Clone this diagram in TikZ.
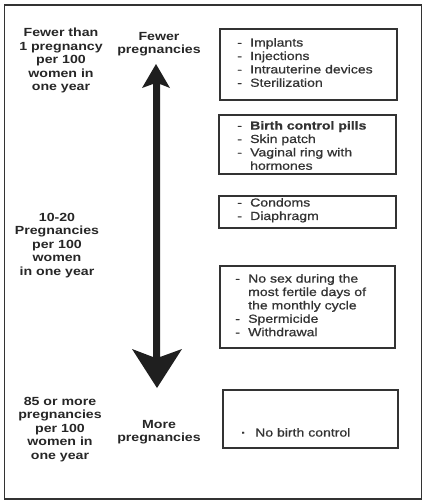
\documentclass[tikz,border=0pt]{standalone}
\usepackage{fontspec}
\setmainfont{Liberation Sans}
\newfontfamily\lblfont[FakeStretch=1.2]{Liberation Sans}
\newfontfamily\medfont[FakeStretch=1.2,FakeBold=0.8]{Liberation Sans}
\newenvironment{itemlist}{\begin{tabular}{@{}p{13pt}@{}l@{}}}{\end{tabular}}
\begin{document}
\begin{tikzpicture}[x=1pt,y=-1pt,
  frame/.style={draw=black!80, line width=1.8pt},
  listbox/.style={draw=black!80, line width=1.6pt, rectangle, inner sep=0pt, anchor=north west},
  sidelabel/.style={anchor=north, inner sep=0pt, align=center, text=black!85,
    font=\lblfont\bfseries\fontsize{11.8}{13.5}\selectfont},
  listtext/.style={anchor=north west, inner sep=0pt, text=black!80,
    font=\medfont\fontsize{11.7}{13.4}\selectfont}]
\useasboundingbox (0,0) rectangle (427,504);
\node[frame, rectangle, inner sep=0pt, anchor=north west, minimum width=417pt, minimum height=494pt] (outer) at (3.5,4) {};
% arrow
\fill[black!88] (156,64) -- (170,88) -- (160,84) -- (160,357) -- (182,349) -- (157,388)
  -- (132,349) -- (153,357) -- (153,84) -- (142,88) -- cycle;
% left labels
\node[sidelabel] (l1) at (61,28) {Fewer than\\1 pregnancy\\per 100\\women in\\one year};
\node[sidelabel] (l2) at (57,213) {10-20\\Pregnancies\\per 100\\women\\in one year};
\node[sidelabel] (l3) at (60,397) {85 or more\\pregnancies\\per 100\\women in\\one year};
\node[sidelabel] (m1) at (159,32) {Fewer\\pregnancies};
\node[sidelabel] (m2) at (159,420) {More\\pregnancies};
% boxes
\node[listbox, minimum width=177pt, minimum height=71pt] (b1) at (219,28) {};
\node[listbox, minimum width=177pt, minimum height=59pt] (b2) at (218,114) {};
\node[listbox, minimum width=177pt, minimum height=32pt] (b3) at (218,195) {};
\node[listbox, minimum width=175pt, minimum height=82pt] (b4) at (219,265) {};
\node[listbox, minimum width=175pt, minimum height=58pt] (b5) at (222,389) {};
\node[listtext] (t1) at (237,37) {\begin{itemlist}
- & Implants\\ - & Injections\\ - & Intrauterine devices\\ - & Sterilization\end{itemlist}};
\node[listtext] (t2) at (237,120) {\begin{itemlist}
- & \bfseries Birth control pills\\ - & Skin patch\\ - & Vaginal ring with\\ & hormones\end{itemlist}};
\node[listtext] (t3) at (237,197) {\begin{itemlist}
- & Condoms\\ - & Diaphragm\end{itemlist}};
\node[listtext] (t4) at (235,273) {\begin{itemlist}
- & No sex during the\\ & most fertile days of\\ & the monthly cycle\\ - & Spermicide\\ - & Withdrawal\end{itemlist}};
\node[listtext] (t5) at (241,427) {\begin{tabular}{@{}p{14pt}@{}l@{}}\bfseries · & No birth control\end{tabular}};
\end{tikzpicture}
\end{document}
